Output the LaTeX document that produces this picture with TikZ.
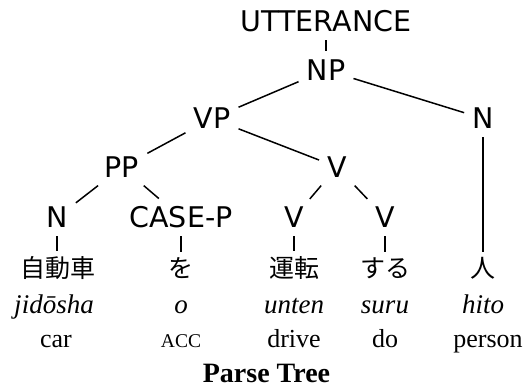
\documentclass[tikz,border=0pt]{standalone}
\usepackage{fontspec}
\setmainfont{Liberation Serif}
\newfontfamily\labelfont{DejaVu Sans}
\newfontfamily\jpfont{Noto Sans CJK JP}
\begin{document}
\begin{tikzpicture}[x=1pt,y=-1pt,
  cat/.style={font=\labelfont\fontsize{28.5}{28.5}\selectfont, inner sep=8pt, anchor=center},
  jp/.style={font=\jpfont\fontsize{25}{25}\selectfont, inner sep=5pt, anchor=base},
  roman/.style={font=\fontsize{26}{26}\selectfont, inner sep=0pt, anchor=base},
  translit/.style={font=\itshape\fontsize{27}{27}\selectfont, inner sep=0pt, anchor=base},
  branch/.style={line width=1.5pt},
]
\useasboundingbox (0,0) rectangle (523,389);

% category labels
\node[cat] (utt)  at (326,21.5)  {UTTERANCE};
\node[cat] (np)   at (326,70)    {NP};
\node[cat] (vp)   at (212,118.5) {VP};
\node[cat] (nr)   at (483,118.5) {N};
\node[cat] (pp)   at (122,167)   {PP};
\node[cat] (vm)   at (337,167)   {V};
\node[cat] (nl)   at (57,217.5)  {N};
\node[cat] (casep) at (181,217.5) {CASE-P};
\node[cat] (va)   at (294,217.5) {V};
\node[cat] (vb)   at (385,217.5) {V};

% Japanese words
\node[jp] (j1) at (58,277)  {自動車};
\node[jp] (j2) at (181,277) {を};
\node[jp] (j3) at (294,277) {運転};
\node[jp] (j4) at (385,277) {する};
\node[jp] (j5) at (483,277) {人};

% transliterations
\node[translit] (t1) at (54,313)  {jidōsha};
\node[translit] (t2) at (181,313) {o};
\node[translit] (t3) at (294,313) {unten};
\node[translit] (t4) at (385,313) {suru};
\node[translit] (t5) at (483,313) {hito};

% glosses
\node[roman] (g1) at (56,347)  {car};
\node[roman] (g2) at (181,347) {\fontsize{19.5}{20}\selectfont ACC};
\node[roman] (g3) at (294,347) {drive};
\node[roman] (g4) at (385,347) {do};
\node[roman] (g5) at (488,347) {person};

% caption
\node[roman, font=\bfseries\fontsize{28}{28}\selectfont] (cap) at (266.5,382) {Parse Tree};

% branches
\draw[branch] (utt) -- (np);
\draw[branch] (np) -- (vp);
\draw[branch] (np) -- (nr);
\draw[branch] (vp) -- (pp);
\draw[branch] (vp) -- (vm);
\draw[branch] (pp) -- (nl);
\draw[branch] (pp) -- (casep);
\draw[branch] (vm) -- (va);
\draw[branch] (vm) -- (vb);
\draw[branch] (nl) -- (nl |- j1.north);
\draw[branch] (casep) -- (casep |- j2.north);
\draw[branch] (va) -- (va |- j3.north);
\draw[branch] (vb) -- (vb |- j4.north);
\draw[branch] (nr) -- (nr |- j5.north);
\end{tikzpicture}
\end{document}
